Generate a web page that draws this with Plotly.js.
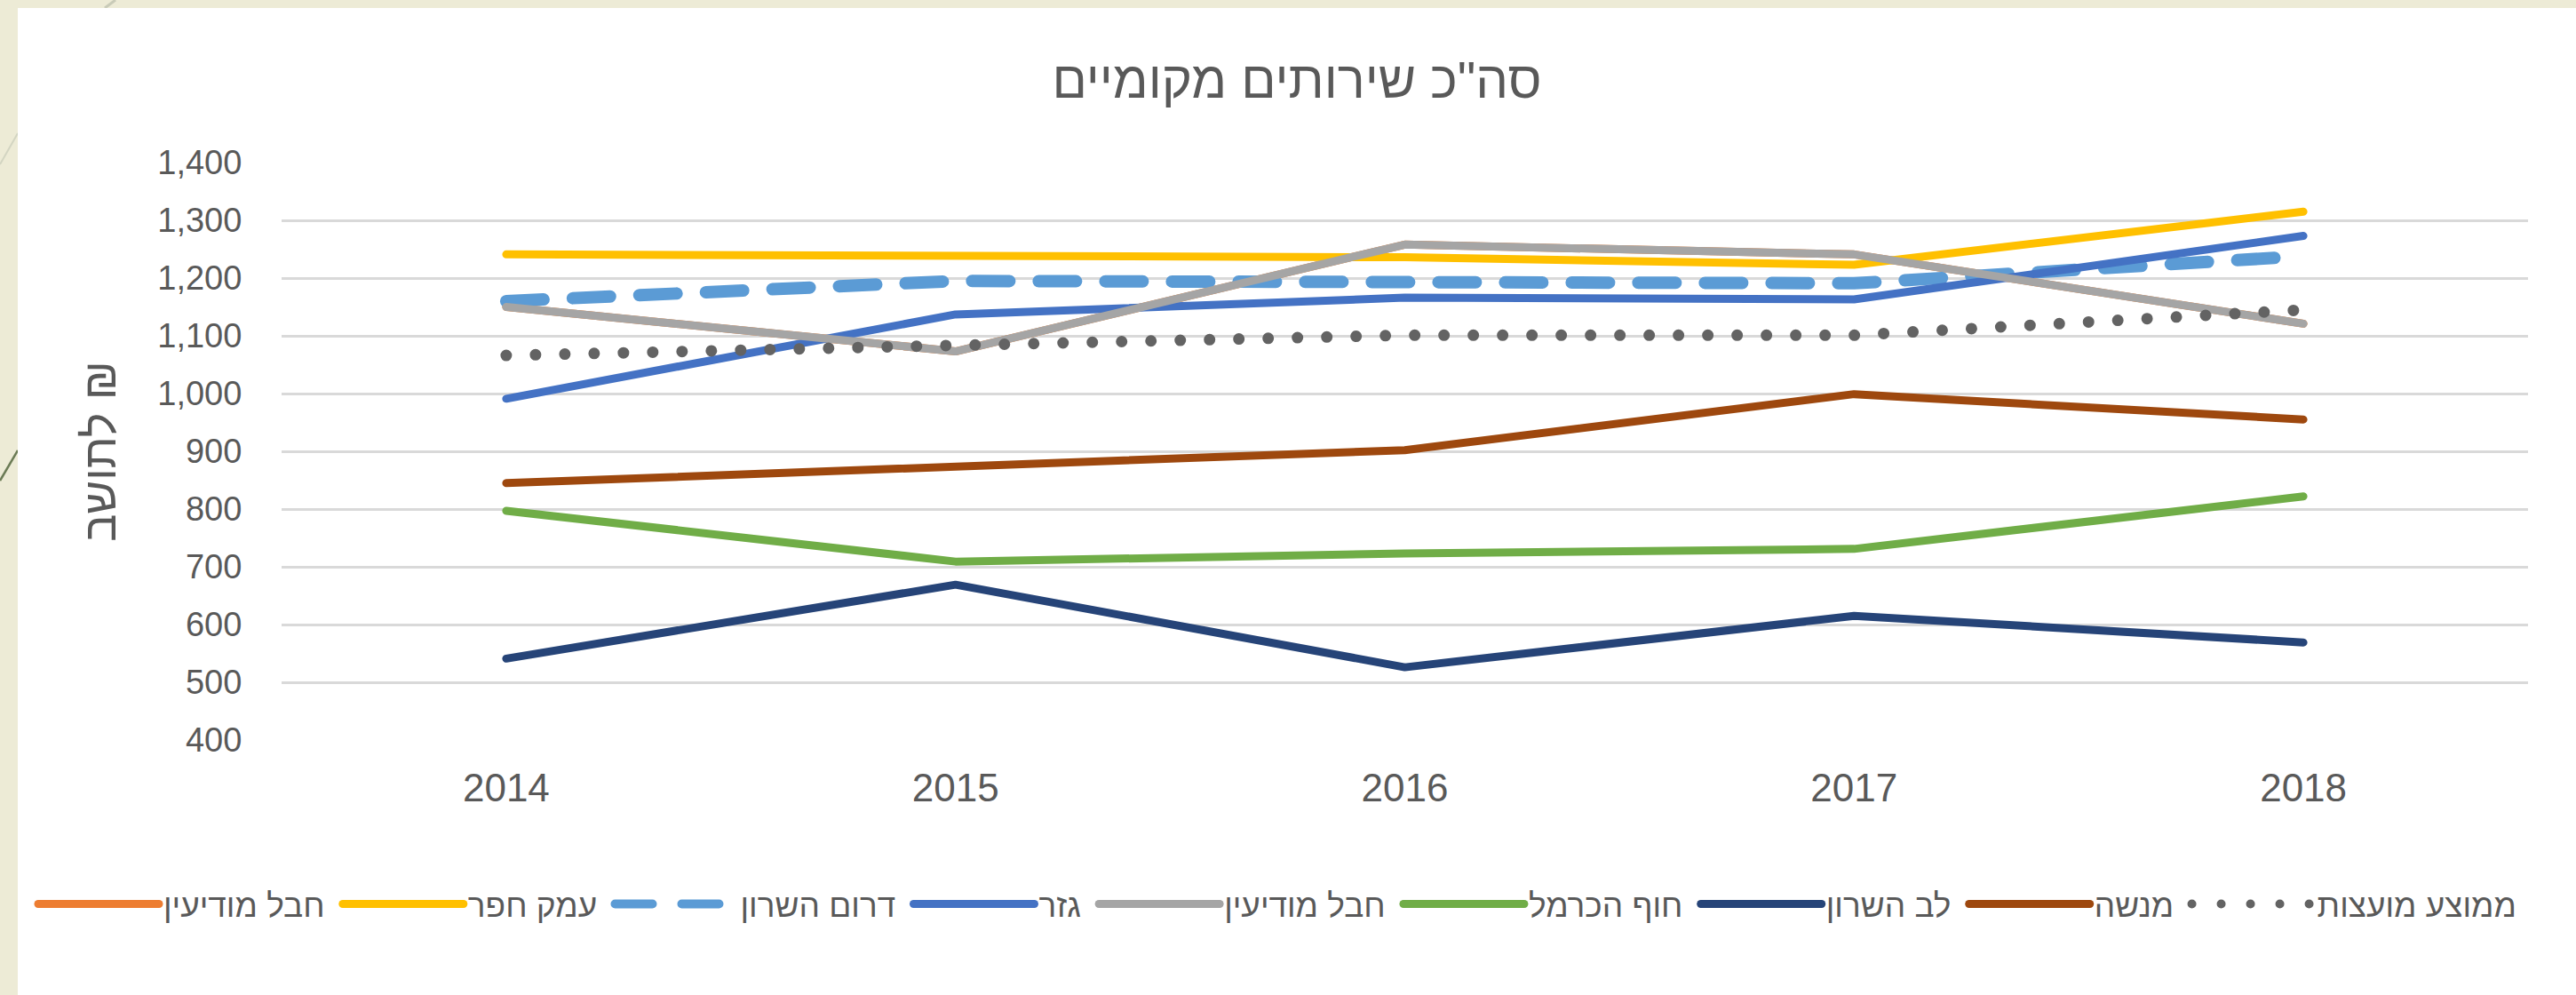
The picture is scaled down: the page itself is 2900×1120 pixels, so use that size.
<!DOCTYPE html>
<html>
<head>
<meta charset="utf-8">
<script src="https://cdn.plot.ly/plotly-3.0.1.min.js"></script>
<style>
  html, body { margin: 0; padding: 0; }
  body { width: 2900px; height: 1120px; background: #EDEBD6; position: relative; overflow: hidden; }
  #deco { position: absolute; left: 0; top: 0; }
  #chart { position: absolute; left: 20px; top: 9px; width: 2880px; height: 1111px; background: #ffffff; }
  .js-line { stroke-linecap: round; stroke-linejoin: round; }
</style>
</head>
<body>
<svg id="deco" width="2900" height="1120">
  <line x1="20" y1="507" x2="0" y2="541" stroke="#6B7B55" stroke-width="2.5"/>
  <line x1="130" y1="0" x2="118" y2="9" stroke="#C9CBB8" stroke-width="3"/>
  <line x1="20" y1="150" x2="0" y2="185" stroke="#D3D5C2" stroke-width="2"/>
</svg>
<div id="chart"></div>
<script>
// ---- data ----
const years = ['2014', '2015', '2016', '2017', '2018'];

const seriesNames = ['חבל מודיעין', 'עמק חפר', 'דרום השרון', 'גזר', 'חבל מודיעין', 'חוף הכרמל', 'לב השרון', 'מנשה', 'ממוצע מועצות'];

const modiinOrange = [1150, 1073, 1258, 1241, 1121];
const emekHefer    = [1241, 1237, 1236, 1223, 1315];
const daromSharon  = [1160, 1195, 1193, 1191, 1238];
const gezer        = [991, 1137, 1166, 1163, 1273];
const modiinGray   = [1150, 1073, 1258, 1241, 1121];
const hofCarmel    = [797, 709, 723, 731, 822];
const levSharon    = [541, 669, 526, 615, 569];
const menashe      = [845, 873, 902, 999, 955];
const average      = [1066, 1082, 1101, 1101, 1145];

const yTickVals = [400, 500, 600, 700, 800, 900, 1000, 1100, 1200, 1300, 1400];

const titleText = 'סה"כ שירותים מקומיים';
const yTitleText = 'לתושב ₪';

// ---- styles ----
const seriesValues = [modiinOrange, emekHefer, daromSharon, gezer, modiinGray, hofCarmel, levSharon, menashe, average];
const colors = ['#ED7D31', '#FFC000', '#5B9BD5', '#4472C4', '#A5A5A5', '#70AD47', '#264478', '#9E480E', '#636363'];
const widths = [9, 9, 14, 9, 9, 9, 9, 9, 13];
const dashes = ['solid', 'solid', '42px,33px', 'solid', 'solid', 'solid', 'solid', 'solid', '0px,33px'];

const FONT = '"Liberation Sans", Arial, "DejaVu Sans", sans-serif';
const TXT = '#595959';
const GAP = '\u00A0'; // trailing spacing after each legend label

const traces = seriesValues.map((vals, i) => ({
  type: 'scatter',
  mode: 'lines',
  x: years,
  y: vals,
  name: seriesNames[i] + (i < seriesValues.length - 1 ? GAP : ''),
  line: { color: colors[i], width: widths[i], dash: dashes[i], shape: 'linear' },
  hoverinfo: 'skip'
}));

// plot area inside the chart div: left 297, right 2826, top 174, bottom 824
const PLOT_W = 2529, PLOT_H = 650;

const layout = {
  width: 2880,
  height: 1111,
  paper_bgcolor: '#ffffff',
  plot_bgcolor: '#ffffff',
  margin: { l: 297, r: 54, t: 174, b: 287 },
  font: { family: FONT, color: TXT },
  title: {
    text: titleText,
    font: { family: FONT, size: 58, color: TXT },
    xref: 'container', x: 0.5, xanchor: 'center',
    yref: 'container', y: 1 - 81 / 1111, yanchor: 'middle'
  },
  xaxis: {
    type: 'category',
    range: [-0.5, 4.5],
    showgrid: false,
    zeroline: false,
    showline: false,
    ticks: 'outside',
    ticklen: 15,
    tickcolor: 'rgba(0,0,0,0)',
    tickfont: { family: FONT, size: 44, color: TXT },
    fixedrange: true
  },
  yaxis: {
    range: [400, 1400],
    tickvals: yTickVals,
    tickformat: ',',
    showgrid: true,
    gridcolor: '#D9D9D9',
    gridwidth: 3,
    zeroline: false,
    showline: false,
    ticks: 'outside',
    ticklen: 36,
    tickcolor: 'rgba(0,0,0,0)',
    tickfont: { family: FONT, size: 38, color: TXT },
    title: { text: yTitleText, font: { family: FONT, size: 52, color: TXT }, standoff: 30 },
    fixedrange: true
  },
  showlegend: true,
  legend: {
    orientation: 'h',
    xref: 'paper', x: (18 - 297) / PLOT_W, xanchor: 'left',
    yref: 'paper', y: -(1009 - 824) / PLOT_H, yanchor: 'middle',
    font: { family: FONT, size: 37, color: TXT },
    itemwidth: 136,
    bgcolor: 'rgba(0,0,0,0)',
    traceorder: 'normal'
  }
};

Plotly.newPlot('chart', traces, layout, { displayModeBar: false, staticPlot: true });
</script>
</body>
</html>
